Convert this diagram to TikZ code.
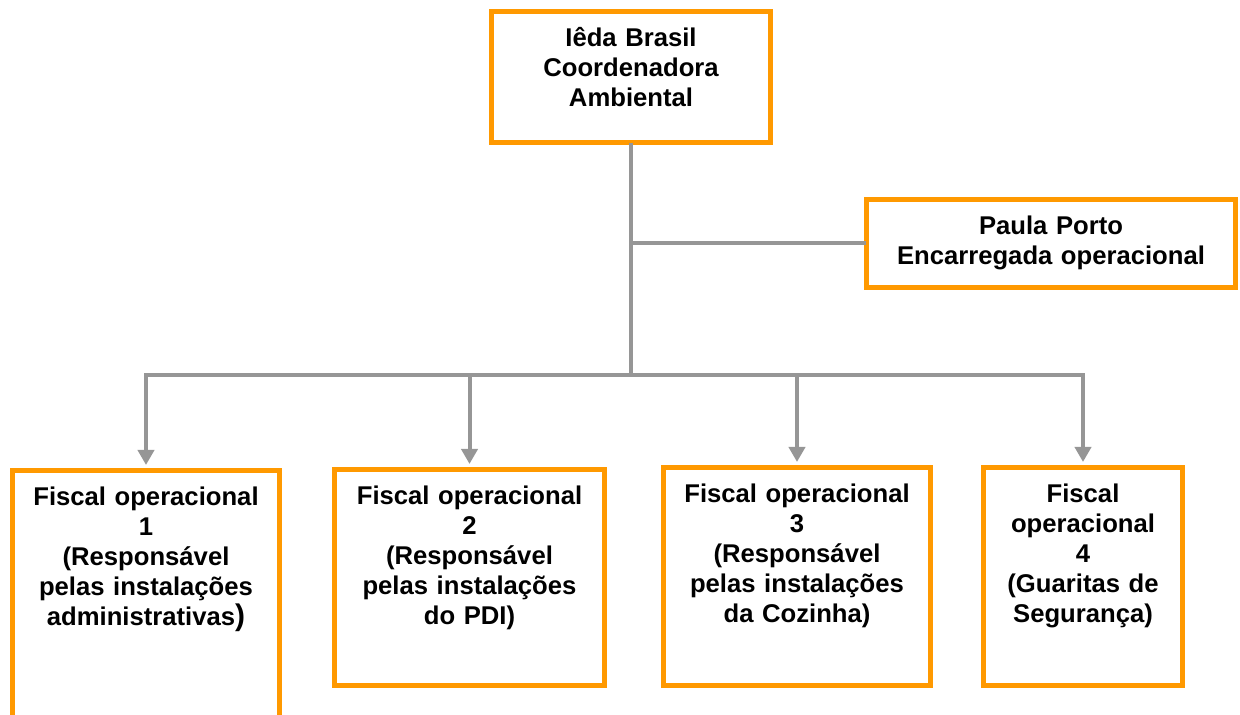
\documentclass[tikz,border=0pt]{standalone}
\usepackage{fontspec}
\setmainfont{Liberation Sans}
\usetikzlibrary{arrows.meta}
\definecolor{boxorange}{HTML}{FF9900}
\definecolor{linkgray}{HTML}{969696}
\begin{document}
\begin{tikzpicture}[
    unit/.style={draw=boxorange, line width=0.1cm, fill=white, anchor=north,
      inner sep=0pt, align=center, text height=0.7cm,
      font=\bfseries\fontsize{14.6}{17.07}\selectfont},
    link/.style={draw=linkgray, line width=0.08cm, line cap=rect},
    down/.style={link, line cap=butt, -{Triangle[width=0.32cm,length=0.3cm]}, shorten >=0.06cm}
  ]
      \useasboundingbox (0,0) rectangle (24.8,14.3);
      \node[unit, text width=5.58cm, text depth=1.92cm] (coord) at (12.62,14.12)
        {Iêda Brasil\\ Coordenadora\\ Ambiental};
      \node[unit, text width=7.38cm, text depth=1.06cm] (paula) at (21.02,10.36)
        {Paula Porto\\ Encarregada operacional};
      \node[unit, text width=5.34cm, text depth=5cm] (fisc1) at (2.92,4.94)
        {Fiscal operacional\\ 1\\ (Responsável\\ pelas instalações\\ administrativas{\fontsize{17}{17}\selectfont)}};
      \node[unit, text width=5.4cm, text depth=3.62cm] (fisc2) at (9.39,4.96)
        {Fiscal operacional\\ 2\\ (Responsável\\ pelas instalações\\ do PDI)};
      \node[unit, text width=5.34cm, text depth=3.66cm] (fisc3) at (15.94,5.0)
        {Fiscal operacional\\ 3\\ (Responsável\\ pelas instalações\\ da Cozinha)};
      \node[unit, text width=3.98cm, text depth=3.66cm] (fisc4) at (21.66,5.0)
        {Fiscal\\ operacional\\ 4\\ (Guaritas de\\ Segurança)};
      \coordinate (bus) at (12.62,6.8);
      \draw[link] (coord.south) -- (coord.south |- bus);
      \draw[link] (paula.west) -- (paula.west -| coord.south);
      \draw[link] (fisc1.north |- bus) -- (fisc4.north |- bus);
      \foreach \f in {fisc1,fisc2,fisc3,fisc4}
        \draw[down] (\f.north |- bus) -- (\f.north);
\end{tikzpicture}
\end{document}
